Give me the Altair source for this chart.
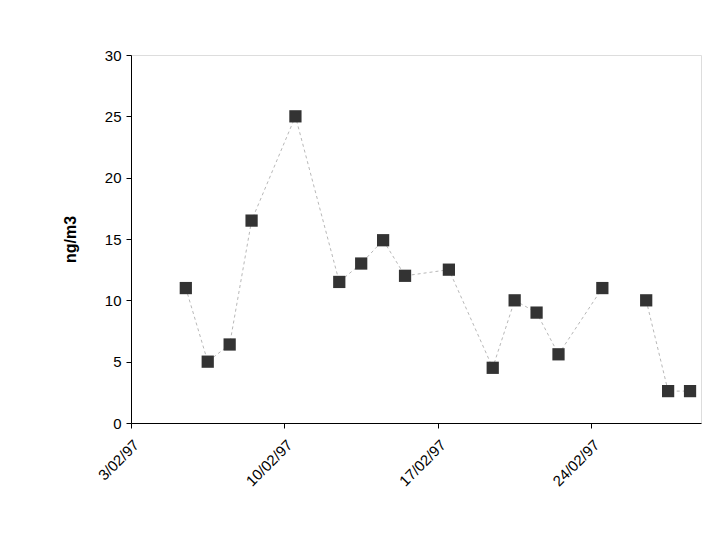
import altair as alt
import pandas as pd

dates = ["1997-02-05T12:00:00Z", "1997-02-06T12:00:00Z", "1997-02-07T12:00:00Z",
         "1997-02-08T12:00:00Z", "1997-02-10T12:00:00Z", "1997-02-12T12:00:00Z",
         "1997-02-13T12:00:00Z", "1997-02-14T12:00:00Z", "1997-02-15T12:00:00Z",
         "1997-02-17T12:00:00Z", "1997-02-19T12:00:00Z", "1997-02-20T12:00:00Z",
         "1997-02-21T12:00:00Z", "1997-02-22T12:00:00Z", "1997-02-24T12:00:00Z",
         "1997-02-25T12:00:00Z", "1997-02-26T12:00:00Z", "1997-02-27T12:00:00Z",
         "1997-02-28T12:00:00Z"]
values = [11.0, 5.0, 6.4, 16.5, 25.0, 11.5, 13.0, 14.9, 12.0, 12.5, 4.5, 10.0,
          9.0, 5.6, 11.0, None, 10.0, 2.6, 2.6]

df = pd.DataFrame({"date": dates, "value": values})

font = "Liberation Sans"
xscale = alt.Scale(type="utc",
                   domain=[alt.DateTime(year=1997, month=2, date=3, utc=True),
                           alt.DateTime(year=1997, month=3, date=1, utc=True)])
tick_vals = [alt.DateTime(year=1997, month=2, date=d, utc=True) for d in [3, 10, 17, 24]]

x = alt.X("date:T", scale=xscale, title=None,
          axis=alt.Axis(values=tick_vals, format="%-d/%m/%y", labelAngle=-45,
                        labelAlign="right", labelBaseline="top", grid=False,
                        tickSize=5, labelFontSize=15, labelFont=font,
                        labelFontWeight=500,
                        labelColor="black", domainColor="black", tickColor="black",
                        labelPadding=9, labelFlush=False, labelOverlap=False))
y = alt.Y("value:Q", scale=alt.Scale(domain=[0, 30]), title="ng/m3",
          axis=alt.Axis(values=[0, 5, 10, 15, 20, 25, 30], grid=False, tickSize=5,
                        labelFontSize=15, labelFont=font, labelColor="black",
                        labelFontWeight=500,
                        domainColor="black", tickColor="black", labelPadding=5,
                        titleFont=font, titleFontSize=16, titleFontWeight="bold",
                        titleColor="black", titlePadding=26))

line = alt.Chart(df).mark_line(color="#b8b8b8", strokeWidth=1, strokeDash=[3, 3]).encode(x=x, y=y)
pts = alt.Chart(df).mark_point(shape="square", filled=True, color="#333333", size=150, opacity=1).encode(x=x, y=y)

chart = (line + pts).properties(
    width=570, height=368,
    autosize=alt.AutoSizeParams(type="none"),
    padding={"left": 123, "top": 47, "right": 10, "bottom": 100},
).configure_view(stroke="#808080", strokeWidth=1).configure(background="white")

chart.save("out.html", embed_options={"renderer": "svg", "actions": False})
